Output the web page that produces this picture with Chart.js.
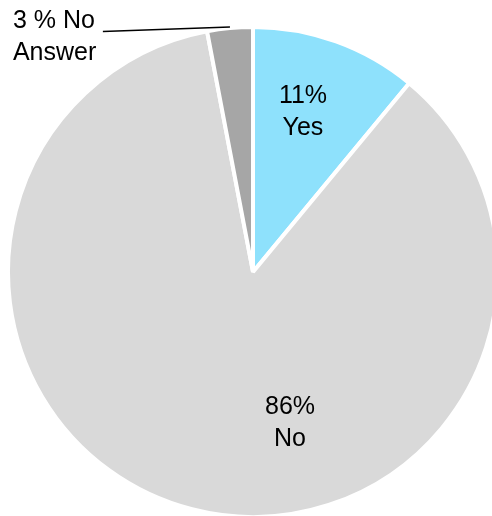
<!DOCTYPE html>
<html>
<head>
<meta charset="utf-8">
<script src="https://cdn.jsdelivr.net/npm/chart.js@4/dist/chart.umd.min.js"></script>
<style>
  html, body { margin: 0; padding: 0; background: #fff; }
  #wrap { width: 492px; height: 516px; overflow: hidden; position: relative; }
  canvas { display: block; }
</style>
</head>
<body>
<div id="wrap"><canvas id="pie" width="500" height="520"></canvas></div>
<script>
  // slice data, clockwise from 12 o'clock
  const categories = ['Yes', 'No', 'No Answer'];
  const shares = [11, 86, 3];
  const labelText = [['11%', 'Yes'], ['86%', 'No'], ['3 % No', 'Answer']];
  const colours = ['#8ee1fc', '#d9d9d9', '#a6a6a6'];

  // where each label block sits, as a fraction of the radius from the centre
  const labelSpots = [
    { fx: 0.204, fy: -0.653, align: 'center' },
    { fx: 0.151, fy: 0.618, align: 'center' },
    { fx: -0.98, fy: -0.957, align: 'left', leader: true }
  ];

  const sliceLabels = {
    id: 'sliceLabels',
    afterDatasetsDraw(chart) {
      const ctx = chart.ctx;
      const arcs = chart.getDatasetMeta(0).data;
      ctx.save();
      ctx.font = '25px "Liberation Sans", Arial, sans-serif';
      ctx.fillStyle = '#000';
      ctx.textBaseline = 'middle';
      arcs.forEach((arc, i) => {
        const spot = labelSpots[i];
        const r = arc.outerRadius;
        const x = arc.x + spot.fx * r;
        const y = arc.y + spot.fy * r;
        const lines = labelText[i];
        const lh = 32;
        ctx.textAlign = spot.align;
        lines.forEach((t, k) => {
          ctx.fillText(t, x, y + (k - (lines.length - 1) / 2) * lh);
        });
        if (spot.leader) {
          const w = ctx.measureText(lines[0]).width;
          const mid = (arc.startAngle + arc.endAngle) / 2;
          const ex = arc.x + Math.cos(mid) * r;
          const ey = arc.y + Math.sin(mid) * r;
          ctx.beginPath();
          ctx.strokeStyle = '#000';
          ctx.lineWidth = 1.5;
          ctx.moveTo(x + w + 8, y - lh / 2 + 10);
          ctx.lineTo(ex, ey - 1);
          ctx.stroke();
        }
      });
      ctx.restore();
    }
  };

  new Chart(document.getElementById('pie'), {
    type: 'pie',
    data: {
      labels: categories,
      datasets: [{
        data: shares,
        backgroundColor: colours,
        borderColor: '#ffffff',
        borderWidth: 4
      }]
    },
    options: {
      responsive: false,
      animation: false,
      layout: { padding: { left: 6, top: 25, right: 0, bottom: 1 } },
      plugins: {
        legend: { display: false },
        tooltip: { enabled: false }
      }
    },
    plugins: [sliceLabels]
  });
</script>
</body>
</html>
